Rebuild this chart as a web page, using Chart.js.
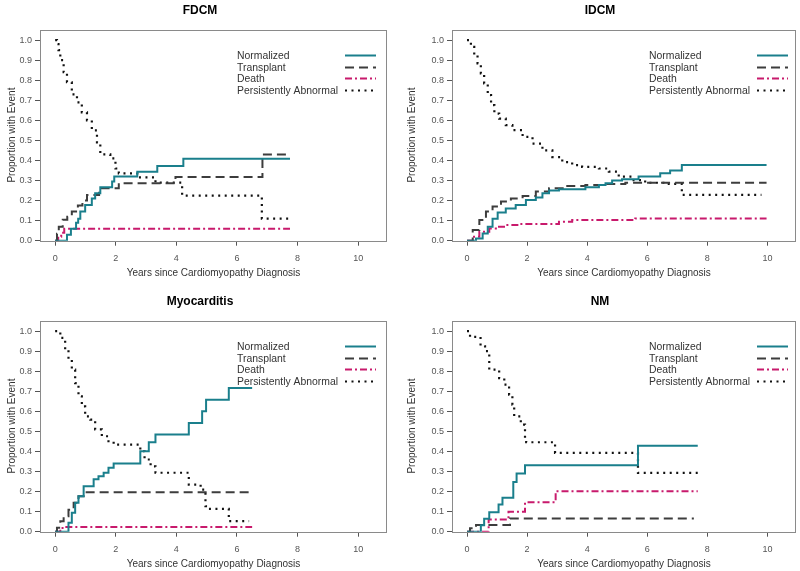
<!DOCTYPE html>
<html>
<head>
<meta charset="utf-8">
<script src="https://cdn.jsdelivr.net/npm/chart.js@4.4.1/dist/chart.umd.min.js"></script>
<style>
html,body{margin:0;padding:0;background:#fff;width:800px;height:571px;overflow:hidden;position:relative;}
canvas{position:absolute;display:block;}
</style>
</head>
<body>
<canvas id="c1" width="400" height="280" style="left:0px;top:0px;width:400px;height:280px"></canvas>
<canvas id="c2" width="400" height="280" style="left:400px;top:0px;width:400px;height:280px"></canvas>
<canvas id="c3" width="400" height="280" style="left:0px;top:291px;width:400px;height:280px"></canvas>
<canvas id="c4" width="400" height="280" style="left:400px;top:291px;width:400px;height:280px"></canvas>
<script>
// ---------- data ----------
const panelTitles = ['FDCM', 'IDCM', 'Myocarditis', 'NM'];
const seriesNames = ['Normalized', 'Transplant', 'Death', 'Persistently Abnormal'];
const xTicks = [0, 2, 4, 6, 8, 10];
const yTicks = [0, 0.1, 0.2, 0.3, 0.4, 0.5, 0.6, 0.7, 0.8, 0.9, 1.0];
const xAxisTitle = 'Years since Cardiomyopathy Diagnosis';
const yAxisTitle = 'Proportion with Event';

// [years, proportion]
const fdcmNorm = [[0,0],[0.39,0.03],[0.52,0.06],[0.69,0.09],[0.76,0.11],[0.83,0.145],[0.99,0.178],[1.21,0.21],[1.32,0.236],[1.49,0.266],[1.88,0.295],[1.95,0.32],[2.71,0.344],[3.37,0.372],[4.23,0.408],[7.75,0.408]];
const fdcmTx = [[0,0],[0.06,0.035],[0.12,0.07],[0.25,0.105],[0.4,0.12],[0.55,0.145],[0.75,0.175],[0.9,0.2],[1.05,0.228],[1.45,0.262],[2.1,0.287],[3.97,0.317],[6.84,0.43],[7.75,0.43]];
const fdcmDeath = [[0,0],[0.1,0.02],[0.2,0.04],[0.3,0.06],[7.75,0.06]];
const fdcmPA = [[0,1.0],[0.06,0.98],[0.11,0.95],[0.17,0.9],[0.28,0.84],[0.39,0.79],[0.55,0.73],[0.72,0.69],[0.88,0.64],[1.05,0.6],[1.21,0.55],[1.38,0.49],[1.49,0.43],[1.82,0.41],[1.99,0.36],[2.1,0.336],[2.71,0.316],[3.31,0.29],[4.19,0.225],[6.82,0.11],[7.75,0.11]];

const idcmNorm = [[0,0],[0.3,0.011],[0.52,0.036],[0.69,0.07],[0.85,0.11],[1.02,0.14],[1.29,0.161],[1.62,0.178],[1.96,0.203],[2.29,0.216],[2.51,0.236],[2.73,0.25],[3.06,0.256],[3.94,0.266],[4.39,0.278],[4.61,0.286],[4.83,0.3],[5.16,0.306],[5.71,0.32],[6.43,0.336],[6.76,0.35],[7.15,0.377],[9.97,0.377]];
const idcmTx = [[0,0],[0.19,0.053],[0.41,0.103],[0.63,0.145],[0.85,0.17],[1.13,0.195],[1.46,0.211],[1.85,0.223],[2.29,0.245],[2.73,0.261],[3.28,0.273],[3.94,0.278],[4.61,0.283],[5.27,0.289],[9.97,0.289]];
const idcmDeath = [[0,0],[0.19,0.02],[0.41,0.045],[0.74,0.061],[0.96,0.07],[1.29,0.078],[1.73,0.083],[3.06,0.095],[3.5,0.103],[5.6,0.111],[9.97,0.111]];
const idcmPA = [[0,1.0],[0.13,0.966],[0.24,0.925],[0.35,0.884],[0.46,0.834],[0.57,0.784],[0.69,0.726],[0.8,0.676],[0.91,0.634],[1.07,0.609],[1.29,0.576],[1.51,0.551],[1.85,0.518],[2.18,0.484],[2.51,0.45],[2.84,0.417],[3.17,0.392],[3.5,0.377],[3.83,0.368],[4.39,0.36],[4.72,0.344],[5.05,0.319],[5.49,0.302],[5.93,0.289],[6.6,0.283],[7.15,0.228],[9.8,0.228]];

const myoNorm = [[0,0],[0.44,0.044],[0.55,0.094],[0.66,0.144],[0.77,0.177],[0.94,0.227],[1.27,0.261],[1.43,0.277],[1.6,0.294],[1.76,0.319],[1.93,0.34],[2.81,0.401],[3.09,0.446],[3.31,0.484],[4.41,0.542],[4.85,0.6],[4.98,0.658],[5.73,0.717],[6.5,0.717]];
const myoTx = [[0,0],[0.06,0.02],[0.17,0.052],[0.28,0.077],[0.44,0.11],[0.61,0.144],[0.77,0.177],[0.94,0.197],[6.5,0.197]];
const myoDeath = [[0,0],[0.17,0.018],[0.28,0.024],[6.5,0.024]];
const myoPA = [[0,1.0],[0.17,0.966],[0.33,0.908],[0.44,0.858],[0.55,0.808],[0.66,0.741],[0.77,0.675],[0.88,0.625],[0.99,0.575],[1.16,0.559],[1.32,0.51],[1.54,0.476],[1.76,0.451],[1.93,0.434],[2.81,0.401],[2.95,0.36],[3.15,0.326],[3.31,0.294],[4.41,0.235],[4.8,0.21],[4.96,0.127],[5.02,0.114],[5.73,0.053],[6.4,0.053]];

const nmNorm = [[0,0],[0.46,0.032],[0.57,0.064],[0.74,0.097],[1.05,0.136],[1.18,0.169],[1.54,0.248],[1.65,0.29],[1.93,0.331],[5.69,0.429],[7.68,0.429]];
const nmTx = [[0,0],[0.1,0.017],[0.3,0.033],[1.43,0.066],[7.55,0.066]];
const nmDeath = [[0,0],[0.72,0.061],[1.38,0.1],[1.93,0.147],[2.95,0.202],[7.68,0.202]];
const nmPA = [[0,1.0],[0.1,0.971],[0.45,0.924],[0.6,0.9],[0.74,0.808],[1.07,0.766],[1.24,0.733],[1.4,0.683],[1.51,0.633],[1.57,0.575],[1.79,0.534],[1.93,0.468],[1.97,0.446],[2.93,0.393],[5.69,0.293],[7.68,0.293]];

const panelData = [
  [fdcmNorm, fdcmTx, fdcmDeath, fdcmPA],
  [idcmNorm, idcmTx, idcmDeath, idcmPA],
  [myoNorm, myoTx, myoDeath, myoPA],
  [nmNorm, nmTx, nmDeath, nmPA]
];

// ---------- styles / layout ----------
const FONT = '"Liberation Sans", Arial, sans-serif';
const styles = [
  {color: '#1a7f8c', dash: [], width: 2},
  {color: '#3d3d3d', dash: [9, 5], width: 2},
  {color: '#c81a6c', dash: [7, 3, 2, 3], width: 2},
  {color: '#111111', dash: [2, 4.5], width: 2.2}
];
const layouts = [
  {canvas: 'c1', padL: 13, padR: 13, yW: 27, yTitlePad: -7},
  {canvas: 'c2', padL: 4, padR: 4, yW: 48, yTitlePad: 2},
  {canvas: 'c3', padL: 13, padR: 13, yW: 27, yTitlePad: -7},
  {canvas: 'c4', padL: 4, padR: 4, yW: 48, yTitlePad: 2}
];

const boxPlugin = {
  id: 'plotBox',
  afterDraw(chart) {
    const {ctx, chartArea: a} = chart;
    ctx.save();
    ctx.strokeStyle = '#8a8a8a';
    ctx.lineWidth = 1;
    ctx.setLineDash([]);
    ctx.strokeRect(Math.round(a.left) + 0.5, Math.round(a.top) + 0.5,
                   Math.round(a.right - a.left) - 1, Math.round(a.bottom - a.top));
    ctx.restore();
  }
};

const innerLegend = {
  id: 'innerLegend',
  afterDatasetsDraw(chart) {
    const {ctx, chartArea: a} = chart;
    ctx.save();
    ctx.font = '10.4px ' + FONT;
    ctx.textAlign = 'left';
    ctx.textBaseline = 'middle';
    chart.data.datasets.forEach((ds, i) => {
      const y = a.top + 26.8 + i * 11.5;
      ctx.fillStyle = '#333';
      ctx.fillText(ds.label, a.left + 197, y);
      ctx.strokeStyle = ds.borderColor;
      ctx.lineWidth = ds.borderWidth;
      ctx.setLineDash(ds.borderDash);
      ctx.beginPath();
      ctx.moveTo(a.left + 305, Math.round(y) - 0.5);
      ctx.lineTo(a.left + 336, Math.round(y) - 0.5);
      ctx.stroke();
    });
    ctx.restore();
  }
};

layouts.forEach((lay, pi) => {
  const datasets = panelData[pi].map((pts, si) => ({
    label: seriesNames[si],
    data: pts,
    stepped: 'before',
    borderColor: styles[si].color,
    borderWidth: styles[si].width,
    borderDash: styles[si].dash,
    borderCapStyle: 'butt',
    pointRadius: 0,
    fill: false,
    tension: 0
  }));
  new Chart(document.getElementById(lay.canvas), {
    type: 'line',
    data: {datasets},
    plugins: [boxPlugin, innerLegend],
    options: {
      responsive: false,
      animation: false,
      devicePixelRatio: 1,
      events: [],
      layout: {padding: {left: lay.padL, right: lay.padR, top: 0, bottom: 0}},
      plugins: {
        legend: {display: false},
        tooltip: {enabled: false},
        title: {
          display: true, text: panelTitles[pi], color: '#000',
          font: {family: FONT, size: 12, weight: 'bold', lineHeight: 1.2},
          padding: {top: 3, bottom: 12.1}
        }
      },
      scales: {
        x: {
          type: 'linear', min: -0.5, max: 10.95,
          afterFit: s => { s.height = 39.3; },
          afterBuildTicks: s => { s.ticks = xTicks.map(v => ({value: v})); },
          border: {display: false},
          grid: {display: true, drawOnChartArea: false, drawTicks: true, tickLength: 5, color: '#555'},
          ticks: {color: '#555', font: {family: FONT, size: 9}, padding: 7, maxRotation: 0,
                  callback: v => String(v)},
          title: {display: true, text: xAxisTitle, color: '#333',
                  font: {family: FONT, size: 10, lineHeight: 1.2}, padding: {top: 0, bottom: 0.5}}
        },
        y: {
          type: 'linear', min: 0, max: 1.053,
          afterFit: s => { s.width = lay.yW; },
          afterBuildTicks: s => { s.ticks = yTicks.map(v => ({value: v})); },
          border: {display: false},
          grid: {display: true, drawOnChartArea: false, drawTicks: true, tickLength: 5, color: '#555'},
          ticks: {color: '#555', font: {family: FONT, size: 9}, padding: 3,
                  callback: v => Number(v).toFixed(1)},
          title: {display: true, text: yAxisTitle, color: '#333',
                  font: {family: FONT, size: 10, lineHeight: 1.2}, padding: {top: lay.yTitlePad, bottom: 0}}
        }
      }
    }
  });
});
</script>
</body>
</html>
